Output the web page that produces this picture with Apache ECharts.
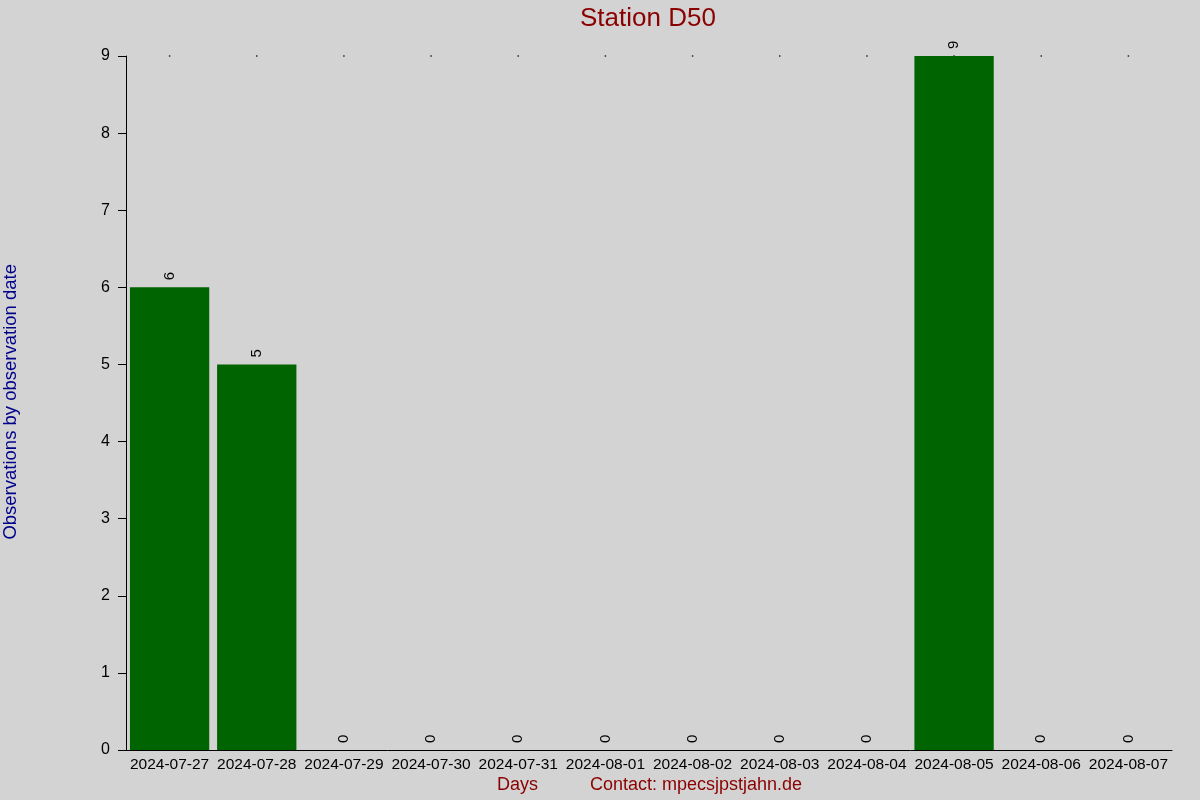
<!DOCTYPE html>
<html><head><meta charset="utf-8">
<script src="https://cdn.jsdelivr.net/npm/echarts@6/dist/echarts.min.js"></script>
<style>html,body{margin:0;padding:0;background:#d3d3d3;}#c{width:1200px;height:800px;}</style>
</head><body><div id="c"></div>
<script>
const categories = ['2024-07-27','2024-07-28','2024-07-29','2024-07-30','2024-07-31','2024-08-01','2024-08-02','2024-08-03','2024-08-04','2024-08-05','2024-08-06','2024-08-07'];
const observations = [6,5,0,0,0,0,0,0,0,9,0,0];
const yTicks = [0,1,2,3,4,5,6,7,8,9];
const topDots = categories.map(() => 9);

const chart = echarts.init(document.getElementById('c'));
chart.setOption({
  backgroundColor: '#d3d3d3',
  animation: false,
  graphic: [
    {type: 'text', left: 580, top: 6, style: {text: 'Station D50', fill: '#8b0000', font: '26px "Liberation Sans"'}},
    {type: 'text', left: 497, top: 776, style: {text: 'Days', fill: '#8b0000', font: '18px "Liberation Sans"'}},
    {type: 'text', left: 590, top: 776, style: {text: 'Contact: mpecsjpstjahn.de', fill: '#8b0000', font: '18px "Liberation Sans"'}},
    {type: 'text', left: 1, top: 264, rotation: Math.PI/2, style: {text: 'Observations by observation date', fill: '#00008b', font: '18.5px "Liberation Sans"'}}
  ],
  grid: {left: 126, right: 28, top: 56, bottom: 50, containLabel: false},
  xAxis: {
    type: 'category', data: categories,
    axisLine: {lineStyle: {color: '#000', width: 1}},
    axisTick: {show: false},
    axisLabel: {color: '#000', fontSize: 15.5, fontFamily: 'Liberation Sans', margin: 7, interval: 0}
  },
  yAxis: {
    type: 'value', min: 0, max: 9, interval: 1,
    axisLine: {show: true, lineStyle: {color: '#000', width: 1}},
    axisTick: {show: true, length: 8, lineStyle: {color: '#000'}},
    splitLine: {show: false},
    axisLabel: {color: '#000', fontSize: 16, fontFamily: 'Liberation Sans', margin: 16,
      formatter: v => yTicks.includes(v) ? String(v) : ''}
  },
  series: [
    {
      type: 'bar', data: observations, barWidth: '91%',
      itemStyle: {color: '#006400'},
      label: {show: true, position: 'top', rotate: 90, align: 'left', verticalAlign: 'middle',
        distance: 7, color: '#000', fontSize: 15, fontFamily: 'Liberation Sans'}
    },
    {
      type: 'scatter', data: topDots, symbol: 'rect', symbolSize: 1.5, z: 1,
      itemStyle: {color: '#000'}, silent: true
    }
  ]
});
</script></body></html>
